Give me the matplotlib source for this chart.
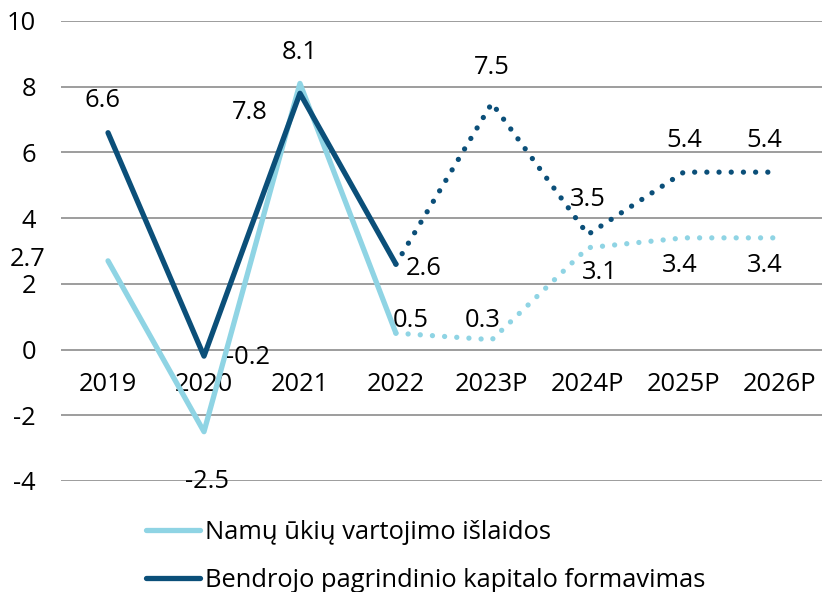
import matplotlib.pyplot as plt

# data
years = ['2019', '2020', '2021', '2022', '2023P', '2024P', '2025P', '2026P']
consumption = [2.7, -2.5, 8.1, 0.5, 0.3, 3.1, 3.4, 3.4]
investment = [6.6, -0.2, 7.8, 2.6, 7.5, 3.5, 5.4, 5.4]
labels = ['Namų ūkių vartojimo išlaidos',
          'Bendrojo pagrindinio kapitalo formavimas']

light = '#8fd4e4'
dark = '#0b4f79'
last_actual = 3  # index of 2022, forecasts after

plt.rcParams['font.family'] = ['Open Sans', 'DejaVu Sans']
plt.rcParams['font.size'] = 18.4
plt.rcParams['axes.unicode_minus'] = False

fig = plt.figure(figsize=(8.22, 5.92), dpi=100)
ax = fig.add_axes([61 / 822, 111 / 592, 761 / 822, 460 / 592])

x = list(range(len(years)))
for vals, col, lab in [(consumption, light, labels[0]),
                       (investment, dark, labels[1])]:
    ax.plot(x[:last_actual + 1], vals[:last_actual + 1], color=col, lw=3.8,
            solid_capstyle='round', label=lab, zorder=3)
    ax.plot(x[last_actual:], vals[last_actual:], color=col, lw=3.8,
            linestyle=(0, (0.01, 2.3)), dash_capstyle='round', zorder=3)

# value labels: (dx, dy, ha, va) offsets in points
cons_off = [(-45, 1, 'right', 'center'), (2, -27, 'center', 'top'),
            (0, 13, 'center', 'bottom'), (-2, 0, 'left', 'bottom'),
            (6, 5, 'right', 'bottom'), (-4, -9, 'left', 'top'),
            (-3, -11, 'center', 'top'), (-11, -11, 'center', 'top')]
inv_off = [(-4, 14, 'center', 'bottom'), (16, -1, 'left', 'center'),
           (-23, -14, 'right', 'center'), (7, -3, 'left', 'center'),
           (0, 17, 'center', 'bottom'), (0, 16, 'center', 'bottom'),
           (0, 14, 'center', 'bottom'), (-11, 14, 'center', 'bottom')]
for vals, offs in [(consumption, cons_off), (investment, inv_off)]:
    for i, v in enumerate(vals):
        dx, dy, ha, va = offs[i]
        ax.annotate(f'{v:.1f}', (i, v), xytext=(dx, dy),
                    textcoords='offset points', ha=ha, va=va, zorder=4)

ax.set_xlim(-0.49, 7.44)
ax.set_ylim(-4, 10)
ax.set_yticks(range(-4, 11, 2))
ax.set_xticks(x)
ax.set_xticklabels(years)
ax.grid(axis='y', color='#8c8c8c', lw=1.2)
ax.set_axisbelow(True)
for s in ['top', 'right', 'left']:
    ax.spines[s].set_visible(False)
ax.spines['bottom'].set_position(('data', 0))
ax.spines['bottom'].set_color('none')
ax.tick_params(axis='x', length=0, pad=16)
ax.tick_params(axis='y', length=0, pad=18)

fig.legend(loc='upper left', bbox_to_anchor=(146 / 822, 1 - 520 / 592),
           frameon=False, handlelength=2.1, handletextpad=0.2,
           labelspacing=0.9, borderaxespad=0, borderpad=0)

fig.savefig('out.png', dpi=100)
